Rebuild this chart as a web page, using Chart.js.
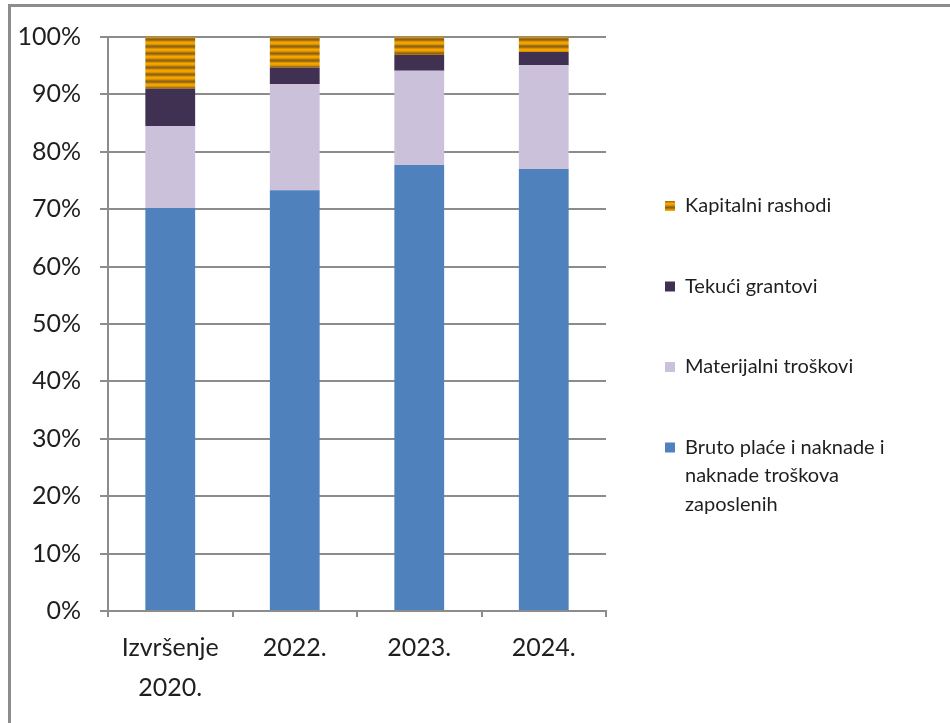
<!DOCTYPE html>
<html>
<head>
<meta charset="utf-8">
<script src="https://cdn.jsdelivr.net/npm/chart.js@4.4.1/dist/chart.umd.min.js"></script>
<style>
  body { margin: 0; background: #fff; }
  #wrap { position: relative; width: 950px; height: 723px; overflow: hidden; }
  #frame { position: absolute; left: 8px; top: 4px; width: 1000px; height: 800px;
           border-left: 3px solid #8c8c8c; border-top: 3px solid #8c8c8c; }
  canvas { position: absolute; left: 0; top: 0; }
</style>
</head>
<body>
<div id="wrap">
  <div id="frame"></div>
  <canvas id="chart" width="950" height="723"></canvas>
</div>
<script>
// categories (multi-line labels as arrays)
const categories = [["Izvršenje", "2020."], "2022.", "2023.", "2024."];

// shares in %
const bruto      = [70.2, 73.3, 77.7, 77.0];
const materijal  = [14.3, 18.5, 16.4, 18.1];
const grantovi   = [6.5, 2.85, 2.75, 2.3];
const kapitalni  = [9.0, 5.35, 3.15, 2.6];

const seriesNames = [
  "Bruto plaće i naknade i\nnaknade troškova\nzaposlenih",
  "Materijalni troškovi",
  "Tekući grantovi",
  "Kapitalni rashodi"
];

const yTicks = [0, 10, 20, 30, 40, 50, 60, 70, 80, 90, 100];

// horizontal stripe pattern for Kapitalni rashodi
function stripePattern() {
  const rows = ["#F7A600", "#F2A000", "#D89000", "#A87410", "#8C6412", "#A87410", "#D89000"];
  const c = document.createElement("canvas");
  c.width = 4; c.height = rows.length;
  const g = c.getContext("2d");
  rows.forEach((col, i) => { g.fillStyle = col; g.fillRect(0, i, 4, 1); });
  return g.createPattern(c, "repeat");
}
const stripes = stripePattern();

const FONT = "Lato, 'Open Sans', sans-serif";
const GRID = "#8c8c8c";

// legend on the right, top item = last dataset
const sideLegend = {
  id: "sideLegend",
  afterDraw(chart) {
    const ctx = chart.ctx;
    const ds = chart.data.datasets;
    ctx.save();
    ctx.font = "20px " + FONT;
    ctx.textBaseline = "middle";
    let y = 206;
    for (let i = ds.length - 1; i >= 0; i--) {
      ctx.fillStyle = ds[i].backgroundColor;
      ctx.fillRect(665, y - 5, 10, 10);
      ctx.fillStyle = "#1f1f1f";
      const lines = ds[i].label.split("\n");
      lines.forEach((t, k) => ctx.fillText(t, 685, y + k * 28.5));
      y += 80.5;
    }
    ctx.restore();
  }
};

new Chart(document.getElementById("chart"), {
  type: "bar",
  data: {
    labels: categories,
    datasets: [
      { label: seriesNames[0], data: bruto, backgroundColor: "#4F81BD" },
      { label: seriesNames[1], data: materijal, backgroundColor: "#CCC1DA" },
      { label: seriesNames[2], data: grantovi, backgroundColor: "#403152" },
      { label: seriesNames[3], data: kapitalni, backgroundColor: stripes }
    ]
  },
  options: {
    responsive: false,
    animation: false,
    layout: { padding: { left: 0, top: 37, right: 344, bottom: 0 } },
    datasets: { bar: { categoryPercentage: 1, barPercentage: 0.4, borderWidth: 0 } },
    plugins: { legend: { display: false }, tooltip: { enabled: false } },
    scales: {
      x: {
        stacked: true,
        afterFit: (s) => { s.height = 112; },
        border: { color: GRID, width: 2 },
        grid: { offset: true, drawOnChartArea: false, drawTicks: true, tickLength: 6, color: GRID, lineWidth: 2 },
        ticks: { color: "#1f1f1f", padding: 11, font: { family: FONT, size: 25, lineHeight: 1.6 }, maxRotation: 0 }
      },
      y: {
        stacked: true,
        min: 0,
        max: 100,
        afterFit: (s) => { s.width = 108; },
        afterBuildTicks: (s) => { s.ticks = yTicks.map(v => ({ value: v })); },
        border: { color: GRID, width: 2 },
        grid: { color: GRID, lineWidth: 2, tickLength: 8 },
        ticks: { color: "#1f1f1f", padding: 19, font: { family: FONT, size: 25 }, callback: (v) => v + "%" }
      }
    }
  },
  plugins: [sideLegend]
});
</script>
</body>
</html>
